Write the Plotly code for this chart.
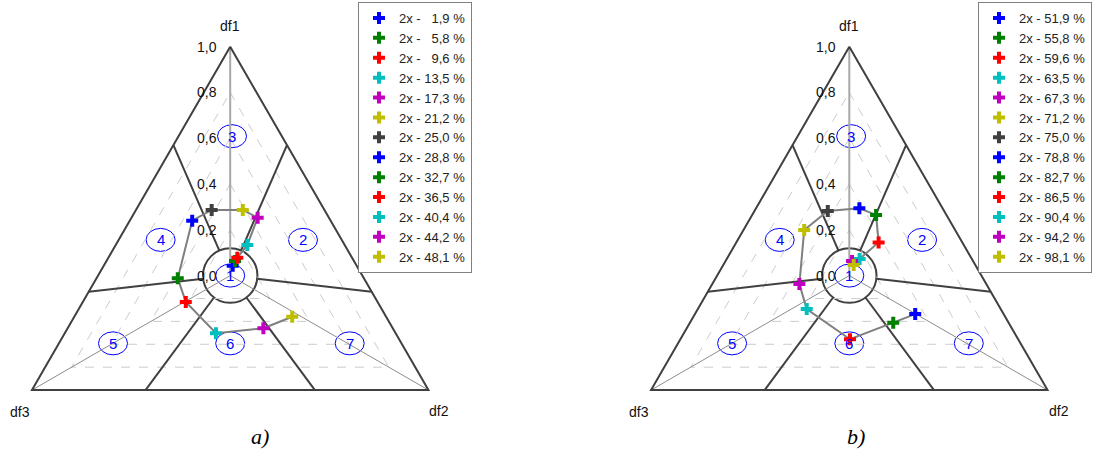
import math
import plotly.graph_objects as go

# ---------------- data ----------------
pct_a = ["1,9", "5,8", "9,6", "13,5", "17,3", "21,2", "25,0",
         "28,8", "32,7", "36,5", "40,4", "44,2", "48,1"]
pct_b = ["51,9", "55,8", "59,6", "63,5", "67,3", "71,2", "75,0",
         "78,8", "82,7", "86,5", "90,4", "94,2", "98,1"]

# point positions in the triangle diagram (fraction of axis length, origin = centre)
x_a = [0.011, 0.021, 0.031, 0.075, 0.120, 0.055, -0.081, -0.166, -0.229, -0.194, -0.062, 0.145, 0.271]
y_a = [0.043, 0.064, 0.078, 0.134, 0.253, 0.287, 0.287, 0.240, -0.012, -0.115, -0.252, -0.230, -0.180]
x_b = [0.288, 0.192, 0.003, -0.186, -0.218, -0.197, -0.094, 0.044, 0.117, 0.128, 0.045, 0.012, 0.019]
y_b = [-0.168, -0.206, -0.278, -0.146, -0.037, 0.199, 0.282, 0.294, 0.265, 0.145, 0.073, 0.064, 0.046]

series_colors = ["#0000ff", "#008000", "#ff0000", "#00bfbf", "#bf00bf", "#bfbf00", "#404040",
                 "#0000ff", "#008000", "#ff0000", "#00bfbf", "#bf00bf", "#bfbf00"]

axis_names = ["df1", "df2", "df3"]
tick_values = [0.0, 0.2, 0.4, 0.6, 0.8, 1.0]
tick_labels = ["0,0", "0,2", "0,4", "0,6", "0,8", "1,0"]
grid_levels = [0.2, 0.4, 0.6, 0.8]

zone_names = ["1", "2", "3", "4", "5", "6", "7"]
zone_x = [0.0, 0.318, 0.008, -0.304, -0.512, 0.0, 0.522]
zone_y = [0.0, 0.156, 0.609, 0.156, -0.296, -0.296, -0.296]

captions = ["a)", "b)"]

# ---------------- geometry / layout constants ----------------
W, H = 1097, 469
R = 228.9                 # px per unit axis length
CY = 275.6                # px, centre row
CX = [230.2, 849.3]       # px, panel centres
AX_ANG = [90.0, -30.0, 210.0]   # df1, df2, df3 directions
CIRCLE_R = 0.119
BOUND_OFF = 23.5          # deg offset of zone boundaries from each axis
DARK = "#404040"


def pol(r, deg):
    a = math.radians(deg)
    return r * math.cos(a), r * math.sin(a)


def edge_dist(deg):
    # distance from centre to triangle edge (unit vertices) along direction deg
    normals = [30.0, 150.0, 270.0]
    best = min(abs(((deg - n + 180) % 360) - 180) for n in normals)
    return 0.5 / math.cos(math.radians(best))


fig = go.Figure()
panels = [(x_a, y_a, pct_a, "x", "y", "legend"),
          (x_b, y_b, pct_b, "x2", "y2", "legend2")]

for pi, (xs, ys, pcts, xa, ya, lg) in enumerate(panels):
    # dashed grid triangles
    for lv in grid_levels:
        pts = [pol(lv, a) for a in AX_ANG] + [pol(lv, AX_ANG[0])]
        fig.add_trace(go.Scatter(x=[p[0] for p in pts], y=[p[1] for p in pts], mode="lines",
                                 line=dict(color="#cccccc", width=1, dash="dash"),
                                 hoverinfo="skip", showlegend=False, xaxis=xa, yaxis=ya))
    # axes from centre to vertices
    for k, a in enumerate(AX_ANG):
        vx, vy = pol(1.0, a)
        fig.add_trace(go.Scatter(x=[0, vx], y=[0, vy], mode="lines",
                                 line=dict(color="#a8a8a8" if k == 0 else "#8c8c8c",
                                           width=2 if k == 0 else 1),
                                 hoverinfo="skip", showlegend=False, xaxis=xa, yaxis=ya))
    # outer triangle
    pts = [pol(1.0, a) for a in AX_ANG] + [pol(1.0, AX_ANG[0])]
    fig.add_trace(go.Scatter(x=[p[0] for p in pts], y=[p[1] for p in pts], mode="lines",
                             line=dict(color=DARK, width=2),
                             hoverinfo="skip", showlegend=False, xaxis=xa, yaxis=ya))
    # zone boundaries
    bx, by = [], []
    for a in AX_ANG:
        for s in (1, -1):
            phi = a + s * BOUND_OFF
            p0 = pol(CIRCLE_R, phi)
            p1 = pol(edge_dist(phi), phi)
            bx += [p0[0], p1[0], None]
            by += [p0[1], p1[1], None]
    fig.add_trace(go.Scatter(x=bx, y=by, mode="lines", line=dict(color=DARK, width=2),
                             hoverinfo="skip", showlegend=False, xaxis=xa, yaxis=ya))
    # central circle
    fig.add_shape(type="circle", xref=xa, yref=ya, x0=-CIRCLE_R, x1=CIRCLE_R,
                  y0=-CIRCLE_R, y1=CIRCLE_R, line=dict(color=DARK, width=2), layer="below")
    # zone ellipses and numbers
    for zn, zx, zy in zip(zone_names, zone_x, zone_y):
        fig.add_shape(type="circle", xref=xa, yref=ya, x0=zx - 14.5 / R, x1=zx + 14.5 / R,
                      y0=zy - 11.5 / R, y1=zy + 11.5 / R,
                      line=dict(color="#0000ff", width=1), layer="below")
        fig.add_annotation(x=zx, y=zy, xref=xa, yref=ya, text=zn, showarrow=False,
                           font=dict(family="Liberation Sans, Arial", size=15, color="#0000ff"))
    # trajectory line
    fig.add_trace(go.Scatter(x=xs, y=ys, mode="lines", line=dict(color="#7f7f7f", width=2),
                             hoverinfo="skip", showlegend=False, xaxis=xa, yaxis=ya))
    # series markers
    for i, (px, py, pc) in enumerate(zip(xs, ys, pcts)):
        pad = "\u00a0\u00a0" if len(pc) < 4 else ""
        name = "2x -\u00a0" + pad + pc + " %"
        fig.add_trace(go.Scatter(x=[px], y=[py], mode="markers", name=name,
                                 marker=dict(symbol="cross", size=10, color=series_colors[i],
                                             line=dict(width=0)),
                                 legend=lg, xaxis=xa, yaxis=ya))
    # tick labels along df1 axis
    for tv, tl in zip(tick_values, tick_labels):
        fig.add_annotation(x=0, y=tv, xref=xa, yref=ya, text=tl, showarrow=False,
                           xanchor="right", xshift=-11,
                           font=dict(family="Liberation Sans, Arial", size=14, color="#111111"))
    # axis names
    shifts = [(0, 21), (11, -21), (-12, -22)]
    for nm, a, (sx, sy) in zip(axis_names, AX_ANG, shifts):
        vx, vy = pol(1.0, a)
        fig.add_annotation(x=vx, y=vy, xref=xa, yref=ya, text=nm, showarrow=False,
                           xshift=sx, yshift=sy,
                           font=dict(family="Liberation Sans, Arial", size=14, color="#111111"))

# captions
for cap, cxp in zip(captions, [249, 867]):
    fig.add_annotation(x=cxp / W, y=1 - 451 / H, xref="paper", yref="paper",
                       text="<i>" + cap + "</i>", showarrow=False,
                       font=dict(family="Liberation Serif, Times New Roman", size=22, color="#000000"))

yr = [(CY - H) / R, CY / R]
legend_style = dict(xanchor="left", yanchor="top", bordercolor="#808080", borderwidth=1,
                    bgcolor="white", tracegroupgap=0,
                    font=dict(family="Liberation Sans, Arial", size=13, color="#222222"))

fig.update_layout(
    width=W, height=H, margin=dict(l=0, r=0, t=0, b=0),
    paper_bgcolor="white", plot_bgcolor="white",
    showlegend=True,
    xaxis=dict(domain=[0, 0.5], range=[(0 - CX[0]) / R, (W / 2 - CX[0]) / R], visible=False),
    yaxis=dict(domain=[0, 1], range=yr, visible=False),
    xaxis2=dict(domain=[0.5, 1], range=[(W / 2 - CX[1]) / R, (W - CX[1]) / R], visible=False,
                anchor="y2"),
    yaxis2=dict(domain=[0, 1], range=yr, visible=False, anchor="x2"),
    legend=dict(x=358 / W, y=1 - 2 / H, **legend_style),
    legend2=dict(x=978 / W, y=1 - 2 / H, **legend_style),
)

fig.write_html("out.html", config={"displayModeBar": False},
               post_script="document.body.style.margin='0';")
